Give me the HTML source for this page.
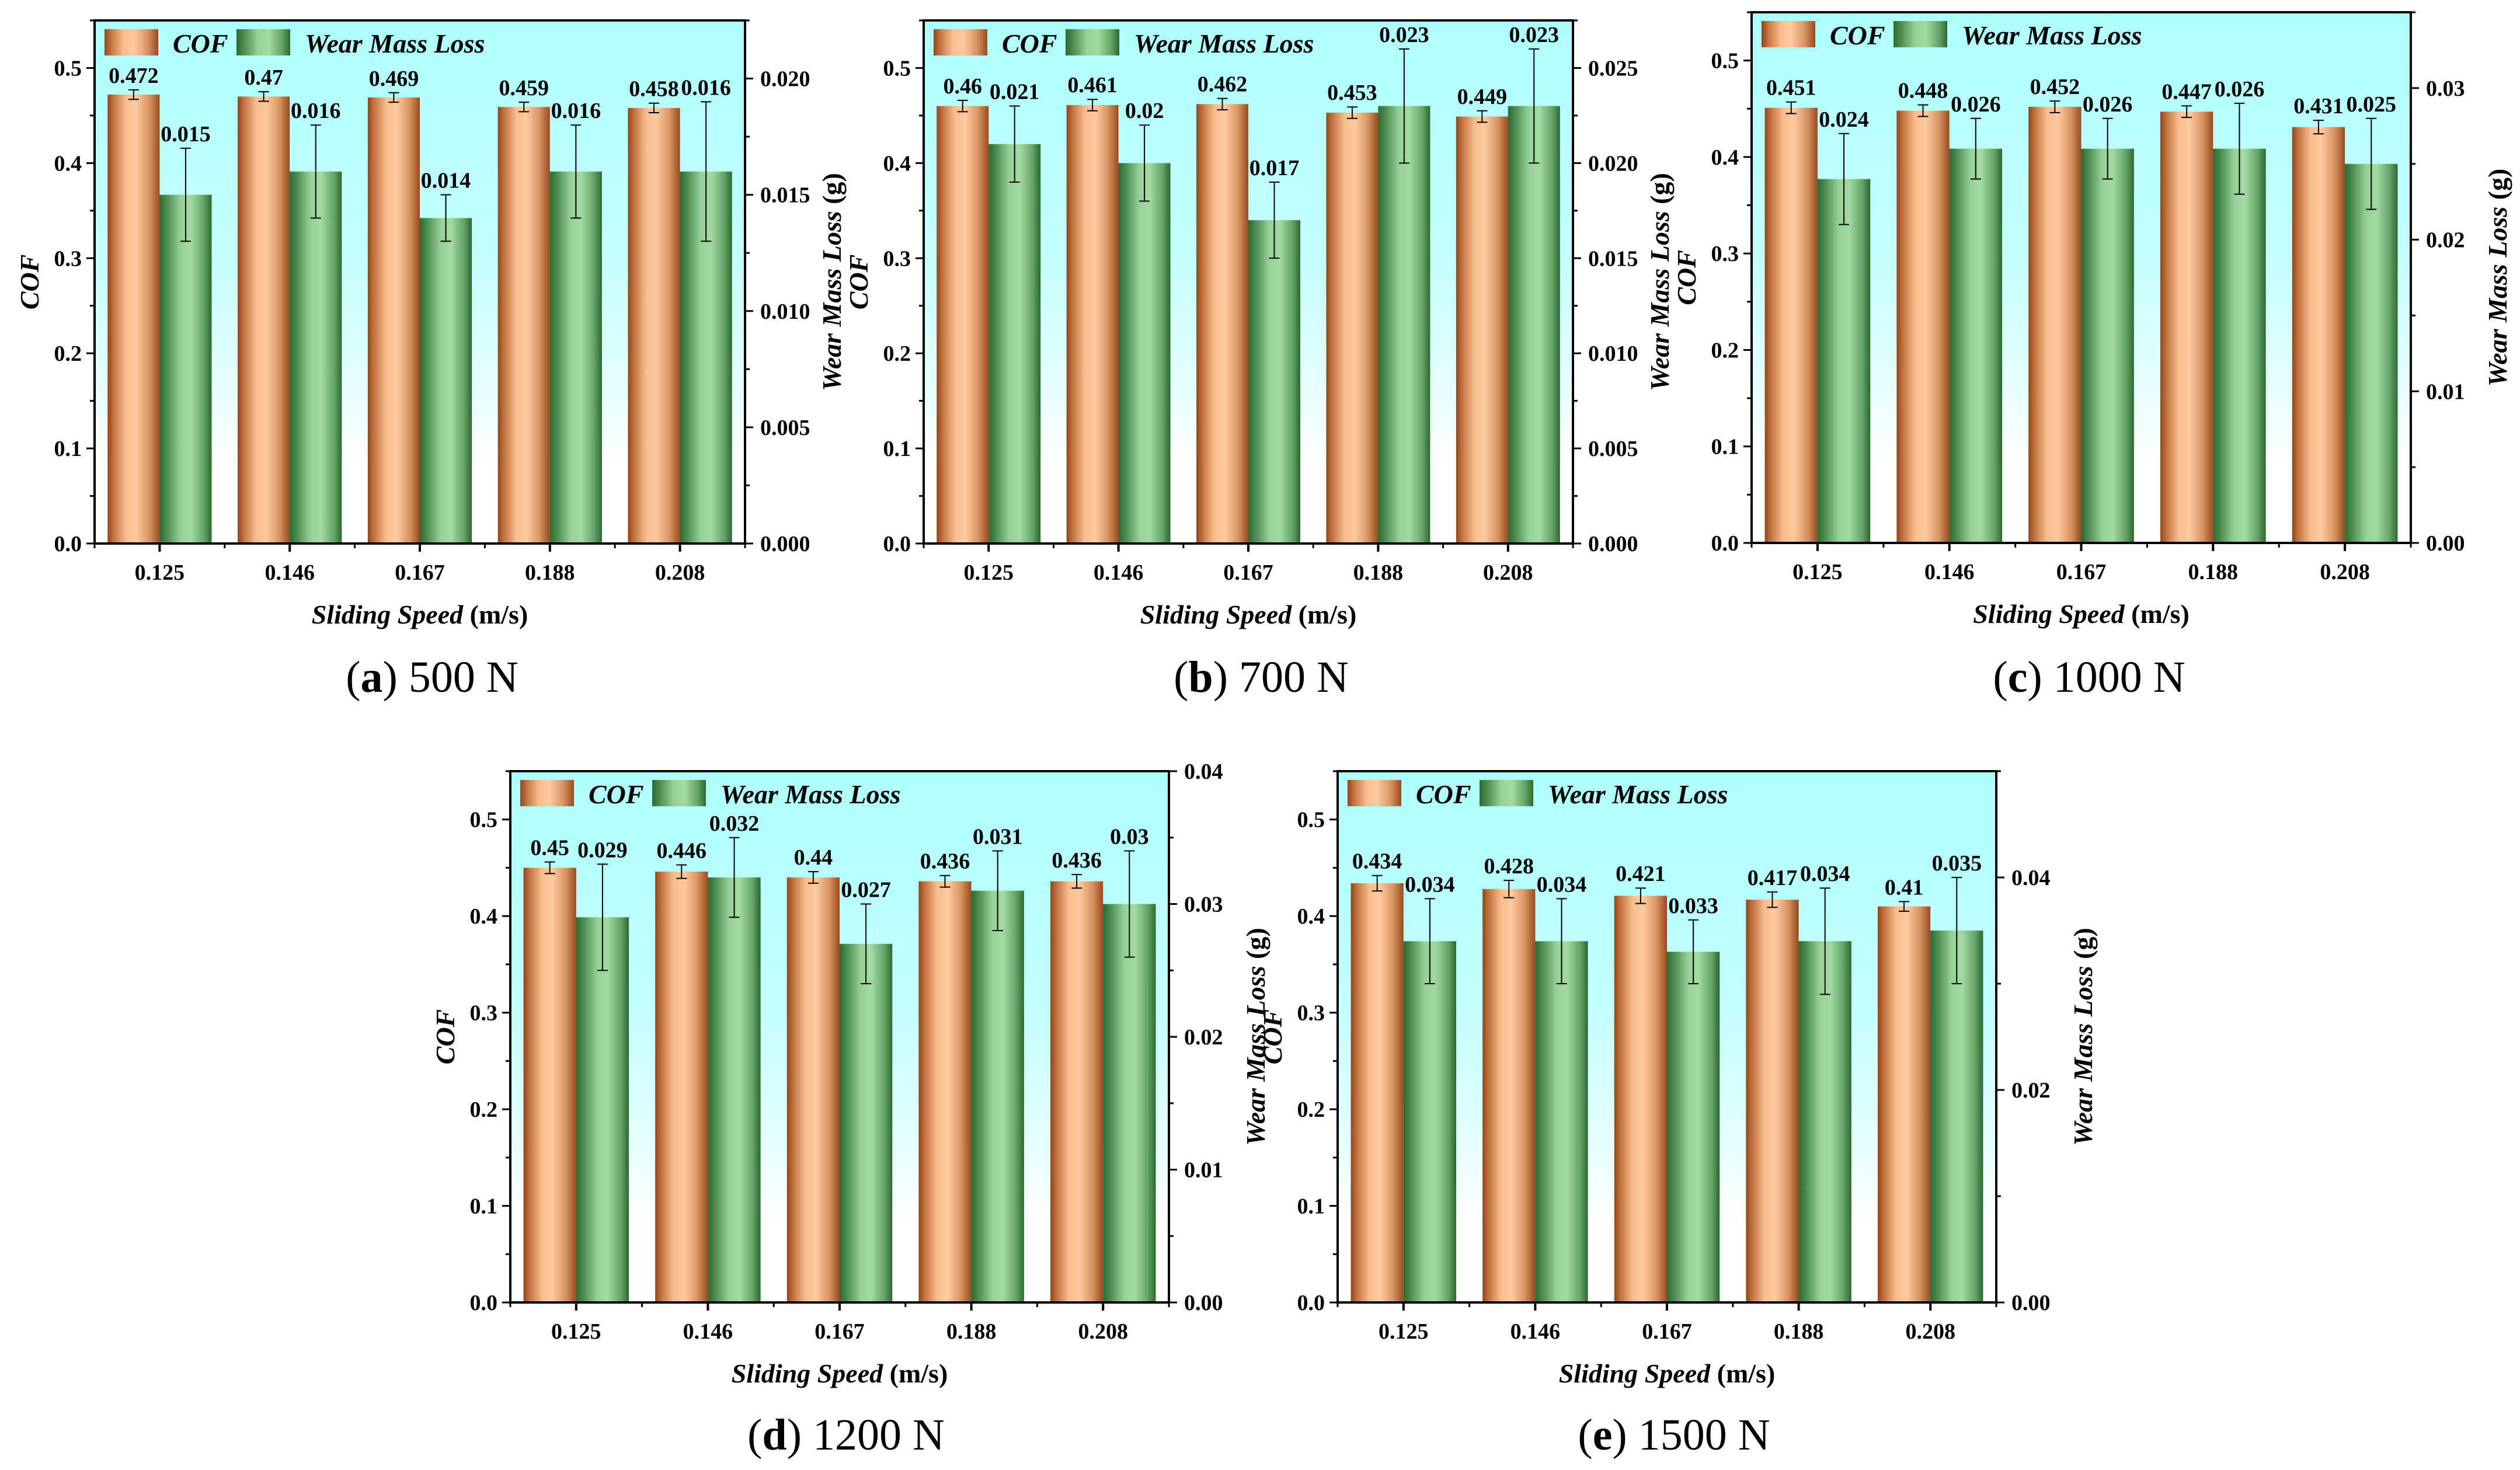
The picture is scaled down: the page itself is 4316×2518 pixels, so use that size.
<!DOCTYPE html>
<html><head><meta charset="utf-8"><style>
html,body{margin:0;padding:0;background:#fff;}
svg{display:block;}
text{font-family:"Liberation Serif",serif;fill:#000;}
</style></head><body>
<svg id="fig" width="4316" height="2518" viewBox="0 0 4316 2518" xmlns="http://www.w3.org/2000/svg">
<defs>
<linearGradient id="gCof" x1="0" y1="0" x2="1" y2="0">
<stop offset="0" stop-color="#94441a"/><stop offset="0.12" stop-color="#c27440"/><stop offset="0.35" stop-color="#f8bd8e"/><stop offset="0.55" stop-color="#fdca9f"/><stop offset="0.8" stop-color="#d89463"/><stop offset="1" stop-color="#984a20"/>
</linearGradient>
<linearGradient id="gWear" x1="0" y1="0" x2="1" y2="0">
<stop offset="0" stop-color="#2c6a32"/><stop offset="0.15" stop-color="#4f8f52"/><stop offset="0.4" stop-color="#97d195"/><stop offset="0.6" stop-color="#a3daa0"/><stop offset="0.85" stop-color="#64a466"/><stop offset="1" stop-color="#2b6831"/>
</linearGradient>
<linearGradient id="gBg" x1="0" y1="0" x2="0" y2="1">
<stop offset="0" stop-color="#aefefe"/><stop offset="0.45" stop-color="#c4ffff"/><stop offset="0.7" stop-color="#e6ffff"/><stop offset="0.85" stop-color="#ffffff"/><stop offset="1" stop-color="#ffffff"/>
</linearGradient>
</defs>
</svg>
<script>
// ---- data ----
const categories = ["0.125","0.146","0.167","0.188","0.208"];
const cofA = [0.472,0.47,0.469,0.459,0.458];
const wearA = [0.015,0.016,0.014,0.016,0.016];
const cofErrA = [0.005,0.005,0.005,0.005,0.005];
const wearErrA = [0.002,0.002,0.001,0.002,0.003];
const cofB = [0.46,0.461,0.462,0.453,0.449];
const wearB = [0.021,0.02,0.017,0.023,0.023];
const cofErrB = [0.006,0.006,0.006,0.006,0.006];
const wearErrB = [0.002,0.002,0.002,0.003,0.003];
const cofC = [0.451,0.448,0.452,0.447,0.431];
const wearC = [0.024,0.026,0.026,0.026,0.025];
const cofErrC = [0.006,0.006,0.006,0.006,0.007];
const wearErrC = [0.003,0.002,0.002,0.003,0.003];
const cofD = [0.45,0.446,0.44,0.436,0.436];
const wearD = [0.029,0.032,0.027,0.031,0.03];
const cofErrD = [0.006,0.007,0.006,0.006,0.007];
const wearErrD = [0.004,0.003,0.003,0.003,0.004];
const cofE = [0.434,0.428,0.421,0.417,0.41];
const wearE = [0.034,0.034,0.033,0.034,0.035];
const cofErrE = [0.008,0.009,0.008,0.008,0.005];
const wearErrE = [0.004,0.004,0.003,0.005,0.005];
const captionLetters = ["a","b","c","d","e"];
const captionLoads = ["500 N","700 N","1000 N","1200 N","1500 N"];

const NS="http://www.w3.org/2000/svg";
const svg=document.getElementById('fig');
function mk(tag,attrs,parent){const e=document.createElementNS(NS,tag);for(const k in attrs)e.setAttribute(k,attrs[k]);(parent||svg).appendChild(e);return e;}

const panels=[
 {id:"a",L:162,R:1276,T:35,B:931,wmax:0.0225,wmaj:0.005,wmin:0.0025,dec:3,cof:cofA,wear:wearA,ce:cofErrA,we:wearErrA,cx:740,cy:1185},
 {id:"b",L:1582,R:2694,T:35,B:931,wmax:0.0275,wmaj:0.005,wmin:0.0025,dec:3,cof:cofB,wear:wearB,ce:cofErrB,we:wearErrB,cx:2160,cy:1185},
 {id:"c",L:3000,R:4129,T:21,B:930,wmax:0.035,wmaj:0.01,wmin:0.005,dec:2,cof:cofC,wear:wearC,ce:cofErrC,we:wearErrC,cx:3578,cy:1185},
 {id:"d",L:874,R:2002,T:1321,B:2231,wmax:0.04,wmaj:0.01,wmin:0.005,dec:2,cof:cofD,wear:wearD,ce:cofErrD,we:wearErrD,cx:1449,cy:2483},
 {id:"e",L:2291,R:3419,T:1321,B:2231,wmax:0.05,wmaj:0.02,wmin:0.01,dec:2,cof:cofE,wear:wearE,ce:cofErrE,we:wearErrE,cx:2867,cy:2483}
];

panels.forEach((p,pi)=>{
 const g=mk('g',{});
 
 
 const W=p.R-p.L, H=p.B-p.T, slot=W/categories.length, bw=slot*0.4;
 const yL=v=>p.B-v/0.55*H;
 const yR=v=>p.B-v/p.wmax*H;
 const xc=i=>p.L+(i+0.5)*slot;
 const bg=mk('rect',{x:p.L,y:p.T,width:W,height:H,fill:'url(#gBg)'},g);
 
 
 categories.forEach((c,i)=>{
  const x=xc(i);
  const b1=mk('rect',{x:x-bw,y:yL(p.cof[i]),width:bw,height:p.B-yL(p.cof[i]),fill:'url(#gCof)'},g);
  
  
  const b2=mk('rect',{x:x,y:yR(p.wear[i]),width:bw,height:p.B-yR(p.wear[i]),fill:'url(#gWear)'},g);
  
  
  // error bars
  const ex1=x-bw/2, t1=yL(p.cof[i]+p.ce[i]), u1=yL(p.cof[i]-p.ce[i]);
  const e1=mk('path',{d:`M${ex1} ${t1}V${u1}M${ex1-9} ${t1}H${ex1+9}M${ex1-9} ${u1}H${ex1+9}`,stroke:'#000','stroke-width':2,fill:'none'},g);
  
  
  const ex2=x+bw/2, t2=yR(p.wear[i]+p.we[i]), u2=yR(p.wear[i]-p.we[i]);
  const e2=mk('path',{d:`M${ex2} ${t2}V${u2}M${ex2-9} ${t2}H${ex2+9}M${ex2-9} ${u2}H${ex2+9}`,stroke:'#000','stroke-width':2,fill:'none'},g);
  
  
  const l1=mk('text',{x:ex1,y:t1-12,'font-size':38,'font-weight':'bold','text-anchor':'middle'},g);
  l1.textContent=String(p.cof[i]);
  
  
  const l2=mk('text',{x:ex2,y:t2-12,'font-size':38,'font-weight':'bold','text-anchor':'middle'},g);
  l2.textContent=String(p.wear[i]);
  
  
  // x ticks
  const xt=mk('line',{x1:x,y1:p.B,x2:x,y2:p.B+14,stroke:'#000','stroke-width':4},g);
  
  
  const xl=mk('text',{x:x,y:p.B+62,'font-size':38,'font-weight':'bold','text-anchor':'middle'},g);
  xl.textContent=c;
  
  
 });
 for(let i=0;i<=categories.length;i++){
  const x=p.L+i*slot;
  const mt=mk('line',{x1:x,y1:p.B,x2:x,y2:p.B+8,stroke:'#000','stroke-width':3},g);
  
  
 }
 // left ticks
 for(let k=0;k<=11;k++){
  const v=k*0.05, y=yL(v), major=k%2===0;
  const t=mk('line',{x1:p.L,y1:y,x2:p.L-(major?14:8),y2:y,stroke:'#000','stroke-width':3},g);
  
  
  if(major){
   const tl=mk('text',{x:p.L-22,y:y+13,'font-size':38,'font-weight':'bold','text-anchor':'end'},g);
   tl.textContent=v.toFixed(1);
   
   
  }
 }
 // right ticks
 const nMin=Math.round(p.wmax/p.wmin+1e-9);
 for(let k=0;k<=nMin;k++){
  const v=k*p.wmin; if(v>p.wmax+1e-9)break;
  const y=yR(v), major=Math.abs(v/p.wmaj-Math.round(v/p.wmaj))<1e-6;
  const t=mk('line',{x1:p.R,y1:y,x2:p.R+(major?14:8),y2:y,stroke:'#000','stroke-width':3},g);
  
  
  if(major){
   const tl=mk('text',{x:p.R+26,y:y+13,'font-size':38,'font-weight':'bold'},g);
   tl.textContent=v.toFixed(p.dec);
   
   
  }
 }
 const fr=mk('rect',{x:p.L,y:p.T,width:W,height:H,fill:'none',stroke:'#000','stroke-width':4},g);
 
 
 // legend
 const s1=mk('rect',{x:p.L+17,y:p.T+15,width:92,height:45,fill:'url(#gCof)'},g);
 
 
 const lt1=mk('text',{x:p.L+134,y:p.T+55,'font-size':46,'font-weight':'bold','font-style':'italic'},g);
 lt1.textContent='COF';
 
 
 const s2=mk('rect',{x:p.L+243,y:p.T+15,width:92,height:45,fill:'url(#gWear)'},g);
 
 
 const lt2=mk('text',{x:p.L+360,y:p.T+55,'font-size':46,'font-weight':'bold','font-style':'italic'},g);
 lt2.textContent='Wear Mass Loss';
 
 
 // axis titles
 const xt=mk('text',{x:(p.L+p.R)/2,y:p.B+137,'font-size':46,'font-weight':'bold','text-anchor':'middle'},g);
 xt.innerHTML='<tspan font-style="italic">Sliding Speed</tspan> (m/s)';
 
 
 const my=(p.T+p.B)/2;
 const ly=mk('text',{x:0,y:0,'font-size':46,'font-weight':'bold','font-style':'italic','text-anchor':'middle',transform:`translate(${p.L-96},${my}) rotate(-90)`},g);
 ly.textContent='COF';
 
 
 const ry=mk('text',{x:0,y:0,'font-size':46,'font-weight':'bold','font-style':'italic','text-anchor':'middle',transform:`translate(${p.R+164},${my}) rotate(-90)`},g);
 ry.innerHTML='Wear Mass Loss <tspan font-style="normal">(g)</tspan>';
 
 
 // caption
 const cap=mk('text',{x:p.cx,y:p.cy,'font-size':76,'text-anchor':'middle'},g);
 cap.innerHTML='(<tspan font-weight="bold">'+captionLetters[pi]+'</tspan>) '+captionLoads[pi];
 
 
});
</script>
</body></html>
